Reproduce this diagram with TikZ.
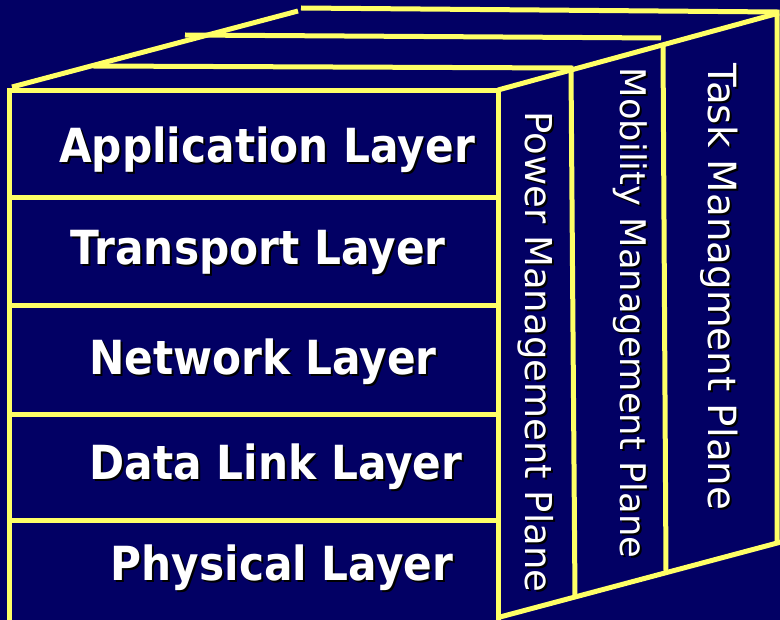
\documentclass[tikz,border=0pt]{standalone}
\usepackage{fontspec}
\newfontfamily\layerfont{DejaVu Sans}[FakeStretch=0.9]
\newfontfamily\planefont{DejaVu Sans}
\definecolor{navy}{RGB}{2,0,100}
\definecolor{lemon}{RGB}{255,255,102}

\begin{document}
\begin{tikzpicture}[x=1pt,y=-1pt,
  edge/.style={draw=lemon,line width=5pt},
  layertxt/.style={anchor=base,text=white,inner sep=0pt,
    font=\layerfont\bfseries\fontsize{47}{56}\selectfont},
  planetxt/.style={anchor=base,rotate=-90,text=white,inner sep=0pt}]

  \path[use as bounding box,fill=navy] (0,0) rectangle (780,620);

  \draw[edge] (9,91) rectangle (498,628);
  \foreach \y in {198,306,415,521}
    \draw[edge] (9,\y) -- (498,\y);

  \draw[edge] (12,87) -- (298,11);
  \draw[edge] (93,66) -- (571,68) -- (575,597);
  \draw[edge] (185,35) -- (661,38);
  \draw[edge] (663,45) -- (666,571);
  \draw[edge] (301,8) -- (777,12) -- (777,543);
  \draw[edge] (498,90) -- (779,13);
  \draw[edge] (500,617) -- (781,542);

  \foreach \nm/\cx/\by/\txt in {app/267/163/Application Layer,
      trans/258/265/Transport Layer, net/263/375/Network Layer,
      link/276/480/Data Link Layer, phys/282/580/Physical Layer}{
    \node[layertxt,text=black] (\nm-s) at (\cx+2,\by+2) {\txt};
    \node[layertxt] (\nm) at (\cx,\by) {\txt};
  }

  \foreach \nm/\bx/\cy/\sz/\txt in {power/525/352/37/Power Management Plane,
      mobility/620/313/35.3/Mobility Management Plane,
      task/708/287/38.8/Task Managment Plane}{
    \node[planetxt,text=black,font=\planefont\fontsize{\sz}{44}\selectfont]
      (\nm-s) at (\bx+2,\cy+2) {\txt};
    \node[planetxt,font=\planefont\fontsize{\sz}{44}\selectfont]
      (\nm) at (\bx,\cy) {\txt};
  }
\end{tikzpicture}
\end{document}
